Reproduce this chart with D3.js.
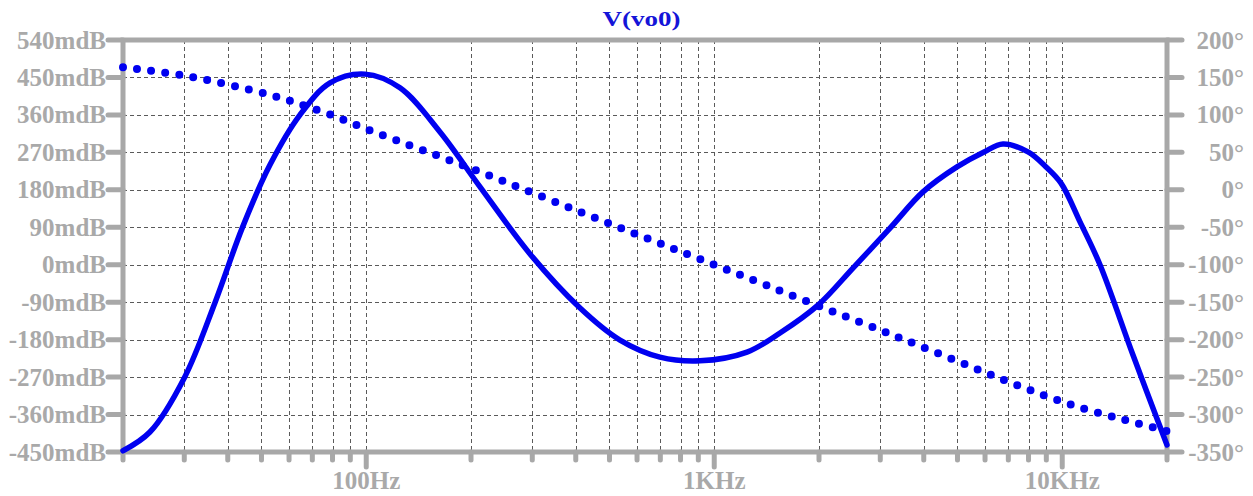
<!DOCTYPE html>
<html>
<head>
<meta charset="utf-8">
<script src="https://cdn.jsdelivr.net/npm/d3@7"></script>
<style>
  html, body { margin: 0; padding: 0; background: #fff; }
  svg { display: block; }
  text { font-family: "Liberation Serif", "Times New Roman", serif; font-weight: bold; }
</style>
</head>
<body>
<svg id="chart" width="1253" height="496"></svg>
<script>
// Bode plot of V(vo0): magnitude (mdB, left axis) and phase (degrees, right axis)
const title = "V(vo0)";

// magnitude trace
const magFreq = [20, 23.9, 30, 36.8, 44, 52.9, 64.5, 78.7, 99.2, 125, 162.9, 212.3, 295.5, 411.5,
  536, 698, 910, 1242, 1545, 1987, 2504, 3200, 3980, 4984, 5960, 6756, 7972, 8981, 9918,
  11247, 12836, 15970, 20000];
const magValues = [-447, -402, -272, -90, 88, 240, 360, 437, 458, 425, 319, 187, 26, -104,
  -181, -222, -231, -210, -164, -97, -8, 88, 175, 235, 271, 290, 271, 235, 196,
  103, 0, -217, -433];

// phase trace
const phaseFreq = [20, 31.2, 52.9, 75.1, 107.4, 198.7, 529, 1074, 3418, 9853, 16730, 20000];
const phaseValues = [163.6, 151, 126.6, 103.9, 75.8, 29.1, -49.6, -105.7, -197.8, -281.9, -312.6, -322];

// axis ticks
const magTicks = [540, 450, 360, 270, 180, 90, 0, -90, -180, -270, -360, -450];
const phaseTicks = [200, 150, 100, 50, 0, -50, -100, -150, -200, -250, -300, -350];
const freqMinorTicks = [30, 40, 50, 60, 70, 80, 90, 200, 300, 400, 500, 600, 700, 800, 900,
  2000, 3000, 4000, 5000, 6000, 7000, 8000, 9000];
const freqMajorTicks = [100, 1000, 10000];
const freqMajorLabels = ["100Hz", "1KHz", "10KHz"];

const frame = { left: 123, right: 1167, top: 40, bottom: 452 };
const axisColor = "#a8a8a8";
const labelColor = "#a9a9a9";
const traceColor = "#0000f0";

const svg = d3.select("#chart");

const x = d3.scaleLog().domain([20, 20000]).range([frame.left, frame.right]);
const yMag = d3.scaleLinear().domain([-450, 540]).range([frame.bottom, frame.top]);
const yPhase = d3.scaleLinear().domain([-350, 200]).range([frame.bottom, frame.top]);

// grid
const grid = svg.append("g")
  .attr("stroke", "#5a5a5a").attr("stroke-width", 1).attr("stroke-dasharray", "4,3");
grid.selectAll("line.h")
  .data(magTicks.slice(1, -1))
  .join("line").attr("class", "h")
  .attr("x1", frame.left).attr("x2", frame.right)
  .attr("y1", d => Math.round(yMag(d)) + 0.5).attr("y2", d => Math.round(yMag(d)) + 0.5);
grid.selectAll("line.v")
  .data(freqMinorTicks.concat(freqMajorTicks))
  .join("line").attr("class", "v")
  .attr("x1", d => Math.round(x(d)) + 0.5).attr("x2", d => Math.round(x(d)) + 0.5)
  .attr("y1", frame.top).attr("y2", frame.bottom);

// frame and tick marks
const axes = svg.append("g")
  .attr("stroke", axisColor).attr("stroke-width", 5).attr("stroke-linecap", "round").attr("fill", "none");
axes.append("rect")
  .attr("x", frame.left).attr("y", frame.top)
  .attr("width", frame.right - frame.left).attr("height", frame.bottom - frame.top)
  .attr("stroke-linecap", "butt");
axes.selectAll("line.lt").data(magTicks).join("line").attr("class", "lt")
  .attr("x1", frame.left - 15).attr("x2", frame.left)
  .attr("y1", d => yMag(d)).attr("y2", d => yMag(d));
axes.selectAll("line.rt").data(phaseTicks).join("line").attr("class", "rt")
  .attr("x1", frame.right).attr("x2", frame.right + 15)
  .attr("y1", d => yPhase(d)).attr("y2", d => yPhase(d));
axes.selectAll("line.bm").data([20].concat(freqMinorTicks, [20000])).join("line").attr("class", "bm")
  .attr("x1", d => x(d)).attr("x2", d => x(d))
  .attr("y1", frame.bottom).attr("y2", frame.bottom + 8);
axes.selectAll("line.bM").data(freqMajorTicks).join("line").attr("class", "bM")
  .attr("x1", d => x(d)).attr("x2", d => x(d))
  .attr("y1", frame.bottom).attr("y2", frame.bottom + 15);

// tick labels
const labels = svg.append("g").attr("fill", labelColor).attr("font-size", 25);
labels.selectAll("text.lm").data(magTicks).join("text").attr("class", "lm")
  .attr("x", frame.left - 17).attr("y", d => yMag(d) + 8.5)
  .attr("text-anchor", "end")
  .text(d => `${d}mdB`);
labels.selectAll("text.rp").data(phaseTicks).join("text").attr("class", "rp")
  .attr("x", 1244).attr("y", d => yPhase(d) + 8.5)
  .attr("text-anchor", "end")
  .text(d => `${d}°`);
labels.selectAll("text.fx").data(freqMajorTicks).join("text").attr("class", "fx")
  .attr("x", d => x(d)).attr("y", 489)
  .attr("text-anchor", "middle")
  .text((d, i) => freqMajorLabels[i]);

// title
svg.append("text")
  .attr("x", 641.5).attr("y", 26)
  .attr("text-anchor", "middle")
  .attr("font-size", 22)
  .attr("textLength", 78).attr("lengthAdjust", "spacingAndGlyphs")
  .attr("fill", "#1414d8")
  .text(title);

// phase trace: dotted
const phaseLine = d3.line()
  .x((d, i) => x(phaseFreq[i]))
  .y(d => yPhase(d))
  .curve(d3.curveCatmullRom.alpha(0.5));
svg.append("path")
  .datum(phaseValues)
  .attr("d", phaseLine)
  .attr("fill", "none")
  .attr("stroke", traceColor)
  .attr("stroke-width", 8)
  .attr("stroke-linecap", "round")
  .attr("stroke-dasharray", "0,14.2");

// magnitude trace: solid
const magLine = d3.line()
  .x((d, i) => x(magFreq[i]))
  .y(d => yMag(d))
  .curve(d3.curveCatmullRom.alpha(0.5));
svg.append("path")
  .datum(magValues)
  .attr("d", magLine)
  .attr("fill", "none")
  .attr("stroke", traceColor)
  .attr("stroke-width", 5.5)
  .attr("stroke-linejoin", "round")
  .attr("stroke-linecap", "round");
</script>
</body>
</html>
